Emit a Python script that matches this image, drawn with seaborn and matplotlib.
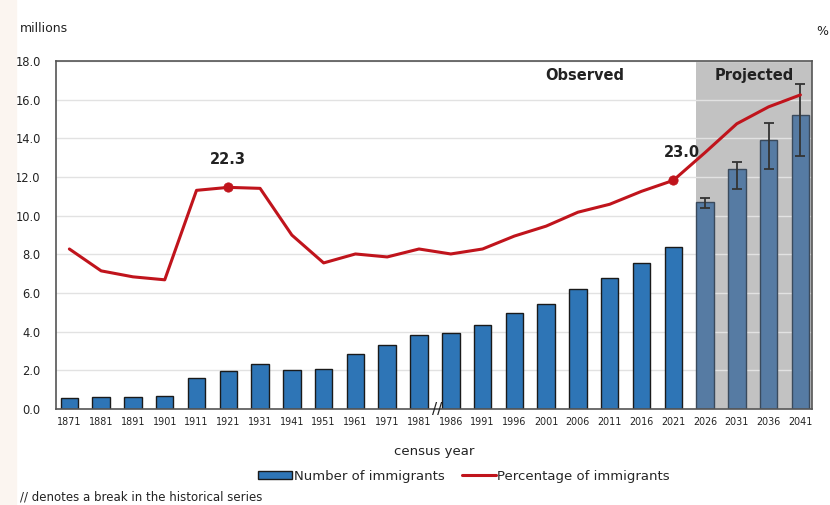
import numpy as np
import pandas as pd
import seaborn as sns
import matplotlib.pyplot as plt
from matplotlib.patches import Patch, Rectangle
from matplotlib.lines import Line2D

years = ['1871', '1881', '1891', '1901', '1911', '1921', '1931', '1941', '1951', '1961',
         '1971', '1981', '1986', '1991', '1996', '2001', '2006', '2011', '2016', '2021',
         '2026', '2031', '2036', '2041']
immigrants = [0.59, 0.60, 0.64, 0.70, 1.59, 1.96, 2.31, 2.02, 2.06, 2.84,
              3.30, 3.84, 3.91, 4.34, 4.97, 5.45, 6.19, 6.78, 7.54, 8.36,
              10.7, 12.4, 13.9, 15.2]
percentage = [16.1, 13.9, 13.3, 13.0, 22.0, 22.3, 22.2, 17.5, 14.7, 15.6,
              15.3, 16.1, 15.6, 16.1, 17.4, 18.4, 19.8, 20.6, 21.9, 23.0,
              25.8, 28.7, 30.4, 31.6]
period = ['Observed'] * 20 + ['Projected'] * 4
proj_years = ['2026', '2031', '2036', '2041']
proj_low = [10.4, 11.4, 12.4, 13.1]
proj_high = [10.9, 12.8, 14.8, 16.8]

df = pd.DataFrame({'year': years, 'immigrants': immigrants,
                   'percentage': percentage, 'period': period})
df['pos'] = np.arange(len(df))

sns.set_style('white')
plt.rcParams['font.family'] = ['DejaVu Sans']

fig = plt.figure(figsize=(8.3, 5.05), dpi=100)
fig.patches.append(Rectangle((0, 0), 0.019, 1, transform=fig.transFigure,
                             color='#fbf5f0', zorder=0))
ax = fig.add_axes([0.0675, 0.19, 0.911, 0.689])

bar_blue = '#2e75b6'
proj_blue = '#567ba3'
red = '#c0141c'
txt = '#222222'

ax.axvspan(19.72, 23.4, color='#c2c2c2', zorder=0, lw=0)
sns.barplot(data=df, x='year', y='immigrants', hue='period', dodge=False,
            palette={'Observed': bar_blue, 'Projected': proj_blue}, saturation=1,
            width=0.55, edgecolor='#1a1a1a', linewidth=1.0, legend=False,
            ax=ax, zorder=2)
for p in ax.patches[-4:]:
    p.set_edgecolor('#3a4a5c')

pos_proj = [years.index(y) for y in proj_years]
vals_proj = [immigrants[i] for i in pos_proj]
err = [np.array(vals_proj) - np.array(proj_low), np.array(proj_high) - np.array(vals_proj)]
ax.errorbar(pos_proj, vals_proj, yerr=err, fmt='none', ecolor='#333333',
            elinewidth=1.3, capsize=3.5, capthick=1.3, zorder=3)

ax.set_xlim(-0.42, 23.37)
ax.set_ylim(0, 18)
ax.set_yticks(np.arange(0, 18.1, 2))
ax.set_yticklabels([f'{v:.1f}' for v in np.arange(0, 18.1, 2)])
ax.yaxis.grid(True, color='#e2e2e2', lw=1)
ax.set_axisbelow(True)
ax.tick_params(axis='both', length=0, colors=txt)
ax.tick_params(axis='y', pad=11, labelsize=8.3)
ax.tick_params(axis='x', pad=6, labelsize=6.9)
ax.set_xlabel('census year', fontsize=9.5, color=txt, labelpad=13)
ax.set_ylabel('')
for s in ax.spines.values():
    s.set_color('#555555')
    s.set_linewidth(1.2)

ax2 = ax.twinx()
sns.lineplot(data=df, x='pos', y='percentage', color=red, lw=2.2, ax=ax2,
             legend=False, zorder=4)
marks = df[df['year'].isin(['1921', '2021'])]
sns.scatterplot(data=marks, x='pos', y='percentage', color=red, s=45,
                edgecolor=red, ax=ax2, legend=False, zorder=5)
ax2.set_ylim(0, 35)
ax2.set_yticks([])
ax2.set_ylabel('')
ax2.set_xlabel('')
for s in ax2.spines.values():
    s.set_visible(False)

for _, r in marks.iterrows():
    dx = 0 if r['year'] == '1921' else 6
    ax2.annotate(f"{r['percentage']:.1f}", (r['pos'], r['percentage']),
                 xytext=(dx, 20), textcoords='offset points', ha='center',
                 va='center', fontsize=10.5, fontweight='bold', color=txt)

ax2.text(16.2, 34.3, 'Observed', ha='center', va='top', fontsize=10.5,
         fontweight='bold', color=txt)
ax2.text(21.55, 34.3, 'Projected', ha='center', va='top', fontsize=10.5,
         fontweight='bold', color=txt)
ax.text(11.57, 0, '//', ha='center', va='center', fontsize=11, color=txt,
        clip_on=False, zorder=6)

fig.text(0.024, 0.943, 'millions', fontsize=9, color=txt, va='center')
fig.text(0.983, 0.938, '%', fontsize=9, color=txt, va='center')

handles = [Patch(facecolor=bar_blue, edgecolor='#1a1a1a', lw=1),
           Line2D([0], [0], color=red, lw=2.2)]
fig.legend(handles, ['Number of immigrants', 'Percentage of immigrants'],
           loc='center', bbox_to_anchor=(0.559, 0.057), ncol=2, frameon=False,
           fontsize=9.5, handlelength=2.6, handletextpad=0.1, columnspacing=1.3,
           handleheight=0.5)
fig.text(0.024, 0.016, '// denotes a break in the historical series',
         fontsize=8.5, color=txt, va='center')

fig.savefig('out.png', dpi=100)
